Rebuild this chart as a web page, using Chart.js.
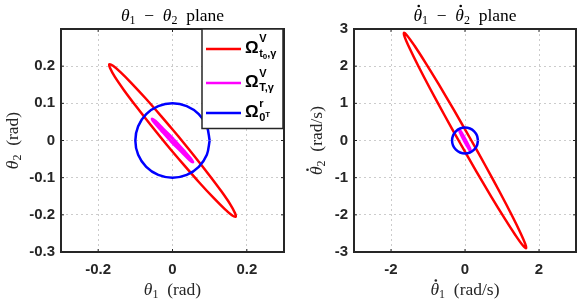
<!DOCTYPE html>
<html>
<head>
<meta charset="utf-8">
<script src="https://cdn.jsdelivr.net/npm/chart.js@4.4.0/dist/chart.umd.min.js"></script>
<style>
  html, body { margin: 0; padding: 0; background: #fff; }
  #wrap { position: relative; width: 581px; height: 303px; }
  canvas { position: absolute; top: 0; }
  #left { left: 0; }
  #right { left: 290px; }
</style>
</head>
<body>
<div id="wrap">
  <canvas id="left" width="290" height="303"></canvas>
  <canvas id="right" width="291" height="303"></canvas>
</div>
<script>
// Ticks
const leftXTicks = [-0.2, 0, 0.2];
const leftYTicks = [-0.3, -0.2, -0.1, 0, 0.1, 0.2];
const rightXTicks = [-2, 0, 2];
const rightYTicks = [-3, -2, -1, 0, 1, 2, 3];

// theta1 - theta2 plane (rad), outlines
const leftRed = [
  [0.015, 0.012], [-0.030, 0.065], [-0.072, 0.113], [-0.110, 0.154], [-0.140, 0.184],
  [-0.160, 0.201], [-0.170, 0.205], [-0.168, 0.195], [-0.155, 0.171], [-0.131, 0.136],
  [-0.098, 0.092], [-0.058, 0.041], [-0.015, -0.012], [0.030, -0.065], [0.072, -0.113],
  [0.110, -0.154], [0.140, -0.184], [0.160, -0.201], [0.170, -0.205], [0.168, -0.195],
  [0.155, -0.171], [0.131, -0.136], [0.098, -0.092], [0.058, -0.041], [0.015, 0.012]
];
const leftMagenta = [
  [0.003, 0.003], [-0.025, 0.031], [-0.046, 0.052], [-0.055, 0.058], [-0.049, 0.049],
  [-0.030, 0.027], [-0.003, -0.003], [0.025, -0.031], [0.046, -0.052], [0.055, -0.058],
  [0.049, -0.049], [0.030, -0.027], [0.003, 0.003]
];
const leftBlue = [
  [0.1, 0], [0.0924, 0.0383], [0.0707, 0.0707], [0.0383, 0.0924], [0, 0.1],
  [-0.0383, 0.0924], [-0.0707, 0.0707], [-0.0924, 0.0383], [-0.1, 0], [-0.0924, -0.0383],
  [-0.0707, -0.0707], [-0.0383, -0.0924], [0, -0.1], [0.0383, -0.0924], [0.0707, -0.0707],
  [0.0924, -0.0383], [0.1, 0]
];

// theta1dot - theta2dot plane (rad/s)
const rightRed = [
  [0.130, 0.074], [-0.301, 0.823], [-0.712, 1.514], [-1.075, 2.102], [-1.364, 2.548],
  [-1.560, 2.820], [-1.65, 2.9], [-1.628, 2.782], [-1.494, 2.474], [-1.259, 1.998],
  [-0.938, 1.386], [-0.553, 0.679], [-0.130, -0.074], [0.301, -0.823], [0.712, -1.514],
  [1.075, -2.102], [1.364, -2.548], [1.560, -2.820], [1.65, -2.9], [1.628, -2.782],
  [1.494, -2.474], [1.259, -1.998], [0.938, -1.386], [0.553, -0.679], [0.130, 0.074]
];
const rightMagenta = [
  [0.018, 0.009], [-0.060, 0.148], [-0.121, 0.247], [-0.15, 0.28], [-0.139, 0.238],
  [-0.090, 0.132], [-0.018, -0.009], [0.060, -0.148], [0.121, -0.247], [0.15, -0.28],
  [0.139, -0.238], [0.090, -0.132], [0.018, 0.009]
];
const rightBlue = [
  [0.35, 0], [0.323, 0.134], [0.247, 0.247], [0.134, 0.323], [0, 0.35],
  [-0.134, 0.323], [-0.247, 0.247], [-0.323, 0.134], [-0.35, 0], [-0.323, -0.134],
  [-0.247, -0.247], [-0.134, -0.323], [0, -0.35], [0.134, -0.323], [0.247, -0.247],
  [0.323, -0.134], [0.35, 0]
];

const SANS = '"Liberation Sans", Arial, sans-serif';
const SERIF = '"Liberation Serif", "Times New Roman", serif';
const IT = "italic 17.5px " + SERIF;
const RM = "17.5px " + SERIF;
const SUB = "12px " + SERIF;
const SP = "\u2002";

// [text, font, dy, dot above]
const leftTitle = [["θ", IT], ["1", SUB, 3], [SP + "−" + SP, RM], ["θ", IT], ["2", SUB, 3], [SP + "plane", RM]];
const rightTitle = [["θ", IT, 0, true], ["1", SUB, 3], [SP + "−" + SP, RM], ["θ", IT, 0, true], ["2", SUB, 3], [SP + "plane", RM]];
const leftXLabel = [["θ", IT], ["1", SUB, 3], [SP + "(rad)", RM]];
const leftYLabel = [["θ", IT], ["2", SUB, 3], [SP + "(rad)", RM]];
const rightXLabel = [["θ", IT, 0, true], ["1", SUB, 3], [SP + "(rad/s)", RM]];
const rightYLabel = [["θ", IT, 0, true], ["2", SUB, 3], [SP + "(rad/s)", RM]];

const legendRows = [
  { color: "#ff0000", line: 49, base: 52.5, sup: "V", sub: [["t", 11, 0], ["0", 8, 2], [",γ", 11, 0]] },
  { color: "#ff00ff", line: 83, base: 87, sup: "V", sub: [["T,γ", 11, 0]] },
  { color: "#0000ff", line: 113, base: 117, sup: "r", sub: [["0", 11, 0], ["T", 8, -4]] }
];

const toPts = (arr) => arr.map((p) => ({ x: p[0], y: p[1] }));

function curve(arr, color, order, width) {
  return {
    data: toPts(arr),
    borderColor: color,
    borderWidth: width,
    showLine: true,
    pointRadius: 0,
    tension: 0.35,
    fill: false,
    order: order,
  };
}

function drawRich(ctx, parts, x, y) {
  let w = 0;
  parts.forEach((p) => { ctx.font = p[1]; w += ctx.measureText(p[0]).width; });
  let cx = x - w / 2;
  parts.forEach((p) => {
    ctx.font = p[1];
    const pw = ctx.measureText(p[0]).width;
    ctx.fillText(p[0], cx, y + (p[2] || 0));
    if (p[3]) {
      ctx.beginPath();
      ctx.arc(cx + pw * 0.62, y - 14.5, 1.3, 0, 2 * Math.PI);
      ctx.fill();
    }
    cx += pw;
  });
}

function drawLegend(ctx) {
  ctx.fillStyle = "#fff";
  ctx.fillRect(202, 29, 81, 99.5);
  ctx.strokeStyle = "#262626";
  ctx.lineWidth = 1.5;
  ctx.strokeRect(202, 29, 81, 99.5);
  legendRows.forEach((r) => {
    ctx.strokeStyle = r.color;
    ctx.lineWidth = 2.5;
    ctx.beginPath();
    ctx.moveTo(206, r.line);
    ctx.lineTo(241, r.line);
    ctx.stroke();
    ctx.fillStyle = "#000";
    ctx.font = "bold 17px " + SANS;
    ctx.fillText("Ω", 245, r.base);
    const sx = 245 + ctx.measureText("Ω").width + 0.5;
    ctx.font = "bold 11px " + SANS;
    ctx.fillText(r.sup, sx, r.base - 10.5);
    let cx = sx;
    r.sub.forEach((s) => {
      ctx.font = "bold " + s[1] + "px " + SANS;
      ctx.fillText(s[0], cx, r.base + 4 + s[2]);
      cx += ctx.measureText(s[0]).width;
    });
  });
}

function framePlugin(opt) {
  return {
    id: "frame",
    afterDraw(chart) {
      const ctx = chart.ctx;
      const a = chart.chartArea;
      const xs = chart.scales.x, ys = chart.scales.y;
      ctx.save();
      // inner ticks
      ctx.strokeStyle = "#262626";
      ctx.lineWidth = 1;
      ctx.beginPath();
      opt.xTicks.forEach((v) => {
        const px = xs.getPixelForValue(v);
        ctx.moveTo(px, a.bottom); ctx.lineTo(px, a.bottom - 3);
        ctx.moveTo(px, a.top); ctx.lineTo(px, a.top + 3);
      });
      opt.yTicks.forEach((v) => {
        const py = ys.getPixelForValue(v);
        ctx.moveTo(a.left, py); ctx.lineTo(a.left + 3, py);
        ctx.moveTo(a.right, py); ctx.lineTo(a.right - 3, py);
      });
      ctx.stroke();
      // box
      ctx.lineWidth = 2;
      ctx.strokeRect(a.left, a.top, a.right - a.left, a.bottom - a.top);
      // titles and labels
      const mid = (a.left + a.right) / 2;
      ctx.fillStyle = "#000";
      ctx.textBaseline = "alphabetic";
      ctx.textAlign = "left";
      drawRich(ctx, opt.title, mid, 20.5);
      ctx.fillStyle = "#262626";
      drawRich(ctx, opt.xLabel, mid, 295);
      ctx.save();
      ctx.translate(opt.yLabelX, (a.top + a.bottom) / 2);
      ctx.rotate(-Math.PI / 2);
      drawRich(ctx, opt.yLabel, 0, 0);
      ctx.restore();
      if (opt.legend) drawLegend(ctx);
      ctx.restore();
    },
  };
}

function makePanel(id, datasets, opt) {
  const tickFont = { family: SANS, size: 15, weight: "bold" };
  const grid = { color: "#cccccc", lineWidth: 1, drawTicks: false };
  return new Chart(document.getElementById(id), {
    type: "scatter",
    data: { datasets: datasets },
    options: {
      responsive: false,
      animation: false,
      layout: { padding: { top: 29, right: opt.padRight, left: 0, bottom: 0 } },
      plugins: { legend: { display: false }, tooltip: { enabled: false } },
      scales: {
        x: {
          type: "linear",
          min: opt.xMin,
          max: opt.xMax,
          afterFit: (s) => { s.height = 51; },
          afterBuildTicks: (s) => { s.ticks = opt.xTicks.map((v) => ({ value: v })); },
          grid: grid,
          border: { display: false, dash: [2, 3] },
          ticks: { padding: 9, font: tickFont, color: "#262626", maxRotation: 0, autoSkip: false, callback: (v) => String(v) },
        },
        y: {
          type: "linear",
          min: opt.yMin,
          max: opt.yMax,
          afterFit: (s) => { s.width = opt.yWidth; },
          afterBuildTicks: (s) => { s.ticks = opt.yTicks.map((v) => ({ value: v })); },
          grid: grid,
          border: { display: false, dash: [2, 3] },
          ticks: { padding: 6, font: tickFont, color: "#262626", autoSkip: false, callback: (v) => String(v) },
        },
      },
    },
    plugins: [framePlugin(opt)],
  });
}

makePanel("left", [
  curve(leftRed, "#ff0000", 3, 2.5),
  curve(leftMagenta, "#ff00ff", 2, 3),
  curve(leftBlue, "#0000ff", 1, 2.5),
], {
  xMin: -0.3, xMax: 0.3, yMin: -0.3, yMax: 0.3,
  xTicks: leftXTicks, yTicks: leftYTicks,
  yWidth: 61, padRight: 6, yLabelX: 18,
  title: leftTitle, xLabel: leftXLabel, yLabel: leftYLabel, legend: true,
});

makePanel("right", [
  curve(rightRed, "#ff0000", 3, 2.5),
  curve(rightMagenta, "#ff00ff", 2, 3),
  curve(rightBlue, "#0000ff", 1, 2.5),
], {
  xMin: -3, xMax: 3, yMin: -3, yMax: 3,
  xTicks: rightXTicks, yTicks: rightYTicks,
  yWidth: 64, padRight: 5, yLabelX: 32,
  title: rightTitle, xLabel: rightXLabel, yLabel: rightYLabel, legend: false,
});
</script>
</body>
</html>
